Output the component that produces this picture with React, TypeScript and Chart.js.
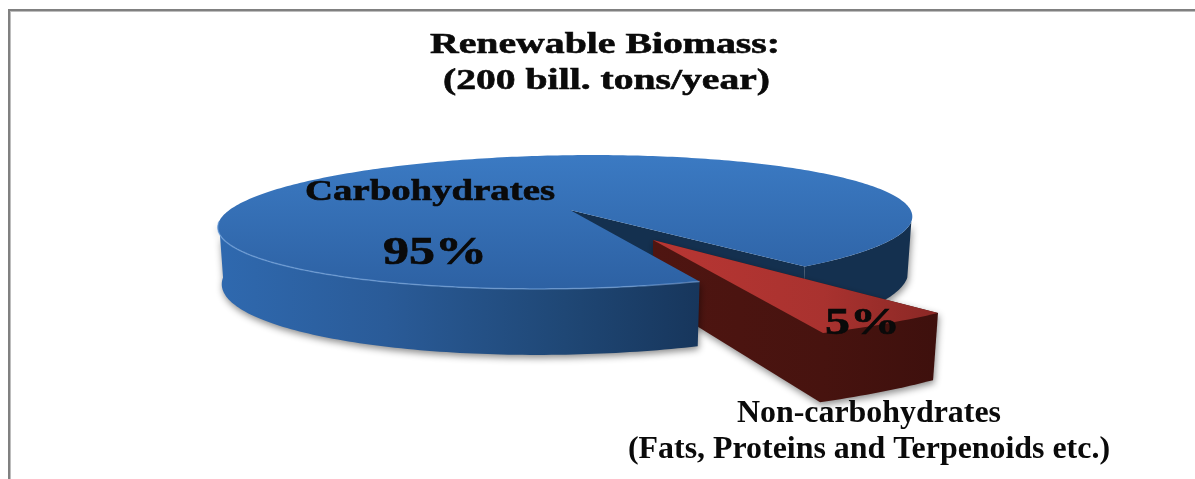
import React, { useEffect, useRef } from "react";
import { Chart, registerables } from "chart.js";

Chart.register(...registerables);

const categories = ["Carbohydrates", "Non-carbohydrates"];
const shares = [95, 5];
const shareLabels = ["95%", "5%"];
const titleLines = ["Renewable Biomass:", "(200 bill. tons/year)"];
const calloutLines = ["Non-carbohydrates", "(Fats, Proteins and Terpenoids etc.)"];

const SERIF = '"Liberation Serif", "Times New Roman", serif';
const deg = Math.PI / 180;

type Pt = [number, number];

// Perspective projection of the large slice's disc; level 0 is its top, level 1 its base.
function discPoint(theta: number, level: number): Pt {
  const u = Math.cos(theta);
  const v = Math.sin(theta);
  const den = 1 - 0.179 * v;
  return [
    570 + ((340.6 - 4 * level) * u - 27 * v) / den,
    (27.2 * v + 210 + 54.2 * level) / den,
  ];
}

function discCentre(level: number): Pt {
  return [570, 210 + 54.2 * level];
}

// Affine projection of the pulled-out slice.
function wedgePoint(theta: number, level: number): Pt {
  const u = Math.cos(theta);
  const v = Math.sin(theta);
  return level === 0
    ? [653 + 433.7 * u + 0.6 * v, 240 - 9.7 * u + 105.2 * v]
    : [653 + 426.2 * u + 0.6 * v, 299 - 10.2 * u + 116.4 * v];
}

function wedgeCentre(level: number): Pt {
  return level === 0 ? [653, 240] : [653, 299];
}

function sweep(map: (t: number, l: number) => Pt, a: number, b: number, level: number): Pt[] {
  const n = Math.max(2, Math.ceil(Math.abs(b - a) / deg));
  const pts: Pt[] = [];
  for (let i = 0; i <= n; i++) pts.push(map(a + ((b - a) * i) / n, level));
  return pts;
}

function fillPoly(ctx: CanvasRenderingContext2D, pts: Pt[], fill: string | CanvasGradient) {
  ctx.beginPath();
  pts.forEach((p, i) => (i ? ctx.lineTo(p[0], p[1]) : ctx.moveTo(p[0], p[1])));
  ctx.closePath();
  ctx.fillStyle = fill;
  ctx.fill();
}

function hGradient(ctx: CanvasRenderingContext2D, x0: number, x1: number, stops: [number, string][]) {
  const g = ctx.createLinearGradient(x0, 0, x1, 0);
  stops.forEach(([o, c]) => g.addColorStop(o, c));
  return g;
}

// Bold serif text widened to span an exact width, with an optional heavier outline.
function fitText(
  ctx: CanvasRenderingContext2D,
  text: string,
  left: number,
  baseline: number,
  size: number,
  width: number,
  weight = 0,
) {
  ctx.save();
  ctx.font = `bold ${size}px ${SERIF}`;
  ctx.textAlign = "left";
  ctx.textBaseline = "alphabetic";
  ctx.fillStyle = "#0a0a0a";
  ctx.strokeStyle = "#0a0a0a";
  ctx.lineWidth = weight;
  const natural = ctx.measureText(text).width;
  ctx.translate(left, baseline);
  ctx.scale(width / natural, 1);
  ctx.fillText(text, 0, 0);
  if (weight > 0) ctx.strokeText(text, 0, 0);
  ctx.restore();
}

const extrudedPie = {
  id: "extrudedPie",
  beforeDatasetsDraw(chart: any) {
    const ctx: CanvasRenderingContext2D = chart.ctx;
    const [large, small] = chart.getDatasetMeta(0).data;
    const a0 = large.startAngle;
    const a1 = large.endAngle;
    const b0 = small.startAngle;
    const b1 = small.endAngle;

    // Frame along the top and left edges
    ctx.save();
    ctx.fillStyle = "#bdbdbd";
    ctx.fillRect(8, 11, 3, 468);
    ctx.fillRect(8, 11, 1187, 1);
    ctx.fillStyle = "#808080";
    ctx.fillRect(8, 9, 1187, 2);
    ctx.fillRect(8, 9, 2, 470);
    ctx.restore();

    const shadow = () => {
      ctx.shadowColor = "rgba(0,0,0,0.45)";
      ctx.shadowBlur = 7;
      ctx.shadowOffsetX = 1;
      ctx.shadowOffsetY = 3;
    };
    const noShadow = () => {
      ctx.shadowColor = "transparent";
      ctx.shadowBlur = 0;
      ctx.shadowOffsetX = 0;
      ctx.shadowOffsetY = 0;
    };

    // Far part of the large slice's outer wall, behind the wedge
    const farStart = a1 - 39 * deg;
    ctx.save();
    shadow();
    fillPoly(
      ctx,
      [...sweep(discPoint, farStart, a1, 0), ...sweep(discPoint, a1, farStart, 1)],
      "#14304f",
    );
    noShadow();
    // Inner cut face visible through the gap
    fillPoly(ctx, [discCentre(0), discPoint(a1, 0), discPoint(a1, 1), discCentre(1)], "#14304f");
    ctx.restore();

    // Pulled-out slice: walls first, then its top face
    ctx.save();
    shadow();
    const wedgeWall = hGradient(ctx, 653, 938, [
      [0, "#4f1511"],
      [0.6, "#47130f"],
      [1, "#3e100d"],
    ]);
    fillPoly(
      ctx,
      [wedgeCentre(0), wedgeCentre(1), ...sweep(wedgePoint, b1, b0, 1), wedgePoint(b0, 0)],
      wedgeWall,
    );
    noShadow();
    const wedgeTop = hGradient(ctx, 653, 938, [
      [0, "#b83633"],
      [0.6, "#a9322f"],
      [1, "#8a2825"],
    ]);
    fillPoly(ctx, [wedgeCentre(0), ...sweep(wedgePoint, b0, b1, 0)], wedgeTop);
    ctx.restore();

    // Near part of the large slice's outer wall, in front of the wedge
    ctx.save();
    shadow();
    const nearEnd = a0 + 103 * deg;
    const wall = hGradient(ctx, 219, 699, [
      [0, "#2f69af"],
      [0.35, "#2a5b98"],
      [0.72, "#1f4775"],
      [1, "#17365c"],
    ]);
    fillPoly(ctx, [...sweep(discPoint, a0, nearEnd, 0), ...sweep(discPoint, nearEnd, a0, 1)], wall);
    noShadow();

    // Top face of the large slice
    const top = ctx.createLinearGradient(0, 155, 0, 290);
    top.addColorStop(0, "#3b7ac3");
    top.addColorStop(1, "#2d61a3");
    fillPoly(ctx, [discCentre(0), ...sweep(discPoint, a0, a1, 0)], top);

    // Light rim along the front edge
    ctx.beginPath();
    sweep(discPoint, a0, nearEnd, 0).forEach((p, i) => (i ? ctx.lineTo(p[0], p[1]) : ctx.moveTo(p[0], p[1])));
    ctx.strokeStyle = "rgba(130,175,230,0.55)";
    ctx.lineWidth = 1.5;
    ctx.stroke();
    ctx.restore();

    // Texts
    fitText(ctx, titleLines[0], 430, 53, 30, 350, 0.6);
    fitText(ctx, titleLines[1], 443, 89, 30, 327, 0.6);
    fitText(ctx, categories[0], 305, 200, 29, 250, 0.6);
    fitText(ctx, shareLabels[0], 383, 264, 41, 104, 0.7);
    fitText(ctx, shareLabels[1], 825, 334, 38, 75, 0.7);
    fitText(ctx, calloutLines[0], 737, 422, 32, 264);
    fitText(ctx, calloutLines[1], 628, 458, 32, 482);

    // The faces above replace the flat arcs
    return false;
  },
};

export default function App() {
  const canvasRef = useRef<HTMLCanvasElement | null>(null);

  useEffect(() => {
    const chart = new Chart(canvasRef.current as HTMLCanvasElement, {
      type: "pie",
      data: {
        labels: categories,
        datasets: [
          {
            data: shares,
            backgroundColor: ["#3a76bf", "#b03330"],
            borderWidth: 0,
          },
        ],
      },
      options: {
        animation: false,
        responsive: false,
        rotation: 157,
        plugins: {
          legend: { display: false },
          title: { display: false },
          tooltip: { enabled: false },
        },
      },
      plugins: [extrudedPie],
    });
    return () => chart.destroy();
  }, []);

  return (
    <canvas
      ref={canvasRef}
      width={1195}
      height={479}
      style={{ position: "absolute", left: 0, top: 0, width: 1195, height: 479, display: "block" }}
    />
  );
}
